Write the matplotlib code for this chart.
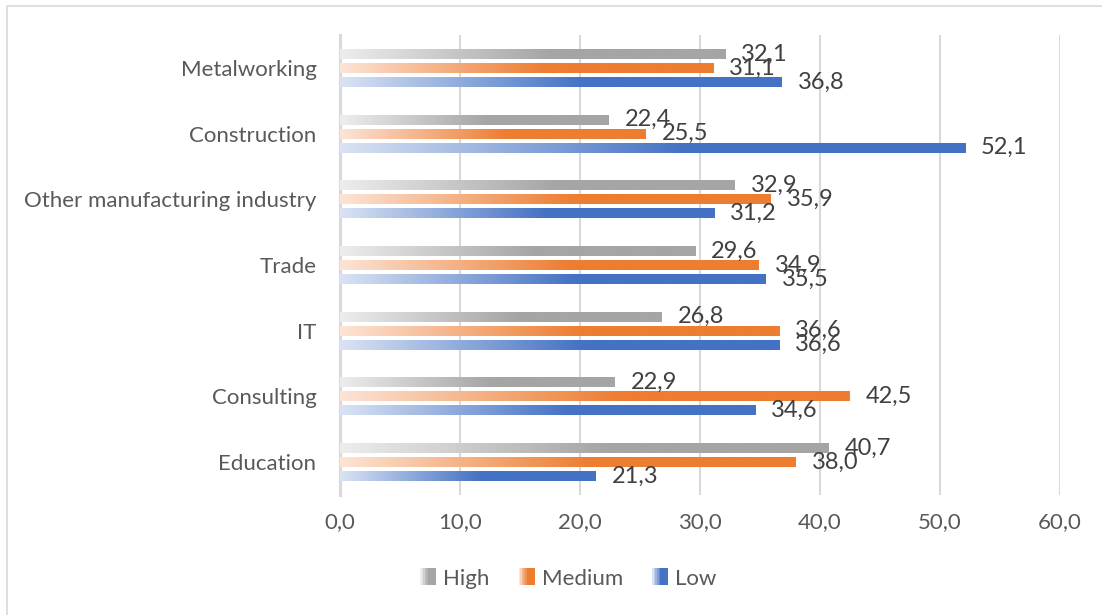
import matplotlib
matplotlib.use("Agg")
import matplotlib.pyplot as plt
from matplotlib.colors import LinearSegmentedColormap, to_rgb
from matplotlib.legend_handler import HandlerBase
from matplotlib.patches import Rectangle
import numpy as np

# --------------------------------------------------------------------
# Data
# --------------------------------------------------------------------
categories = ["Metalworking", "Construction", "Other manufacturing industry",
              "Trade", "IT", "Consulting", "Education"]
high   = [32.1, 22.4, 32.9, 29.6, 26.8, 22.9, 40.7]
medium = [31.1, 25.5, 35.9, 34.9, 36.6, 42.5, 38.0]
low    = [36.8, 52.1, 31.2, 35.5, 36.6, 34.6, 21.3]
series_names = ["High", "Medium", "Low"]
xticks = [0, 10, 20, 30, 40, 50, 60]

# --------------------------------------------------------------------
# Styles
# --------------------------------------------------------------------
full_cols  = ["#A5A5A5", "#ED7D31", "#4472C4"]
light_cols = ["#EDEDED", "#FCE4D6", "#DAE3F3"]
txt_col = "#595959"
grid_col = "#D9D9D9"
fsize = 16
vsize = 17
plt.rcParams['font.family'] = ['Lato', 'DejaVu Sans']

def make_cmap(c0, c1):
    return LinearSegmentedColormap.from_list("g", [(0, to_rgb(c0)), (0.55, to_rgb(c1)), (1, to_rgb(c1))])

cmaps = [make_cmap(l, f) for l, f in zip(light_cols, full_cols)]

fig = plt.figure(figsize=(11.02, 6.15), dpi=100)
ax = fig.add_axes([340/1102, 1-495/615, 720/1102, 460/615])

# chart border
fig.patches.append(Rectangle((7/1102, -0.05), 1.1, 1-6/615+0.05, transform=fig.transFigure,
                             fill=False, edgecolor=grid_col, linewidth=1.2))

step = 0.213
bh = 0.152
grad = np.linspace(0, 1, 256).reshape(1, -1)

for si, vals in enumerate([high, medium, low]):
    for ci, v in enumerate(vals):
        yc = ci + (si - 1) * step
        ax.imshow(grad, cmap=cmaps[si], aspect='auto', interpolation='bilinear',
                  extent=[0, v, yc + bh/2, yc - bh/2], zorder=3)
        ax.annotate(("%.1f" % v).replace(".", ","), xy=(v, yc), xytext=(11.5, 0),
                    textcoords="offset points", ha="left", va="center",
                    fontsize=vsize, color="#404040", zorder=5)

ax.set_xlim(0, 60)
ax.set_ylim(6.5, -0.5)
ax.set_yticks(range(len(categories)))
ax.set_yticklabels(categories)
ax.set_xticks(xticks)
ax.set_xticklabels([("%.1f" % t).replace(".", ",") for t in xticks])
ax.tick_params(length=0, labelsize=fsize, colors=txt_col)
ax.tick_params(axis='x', pad=12)
ax.tick_params(axis='y', pad=17)
for s in ["top", "right", "bottom"]:
    ax.spines[s].set_visible(False)
ax.spines["left"].set_color(grid_col)
ax.spines["left"].set_linewidth(2.2)
ax.grid(axis='x', color=grid_col, linewidth=1.5, zorder=0)
ax.set_axisbelow(True)

# --------------------------------------------------------------------
# Legend with gradient swatches
# --------------------------------------------------------------------
class GradHandler(HandlerBase):
    def __init__(self, cmap):
        super().__init__()
        self.cmap = cmap
    def create_artists(self, legend, orig_handle, xdescent, ydescent, width, height, fontsize, trans):
        n = 10
        arts = []
        side = height * 1.05
        x0 = width - side
        y0 = (height - side) / 2 + 0.5
        for i in range(n):
            r = Rectangle((x0 - xdescent + i * side / n, y0 - ydescent), side / n + 0.05, side,
                          facecolor=self.cmap(i / (n - 1)), edgecolor='none', transform=trans)
            arts.append(r)
        return arts

handles = [Rectangle((0, 0), 1, 1) for _ in series_names]
leg = fig.legend(handles, series_names, loc="center", bbox_to_anchor=(568/1102, 1-579/615),
                 ncol=3, frameon=False, fontsize=fsize, labelcolor=txt_col,
                 handlelength=0.75, handletextpad=0.3, columnspacing=1.3,
                 handler_map={h: GradHandler(c) for h, c in zip(handles, cmaps)})

fig.savefig("out.png", dpi=100)
